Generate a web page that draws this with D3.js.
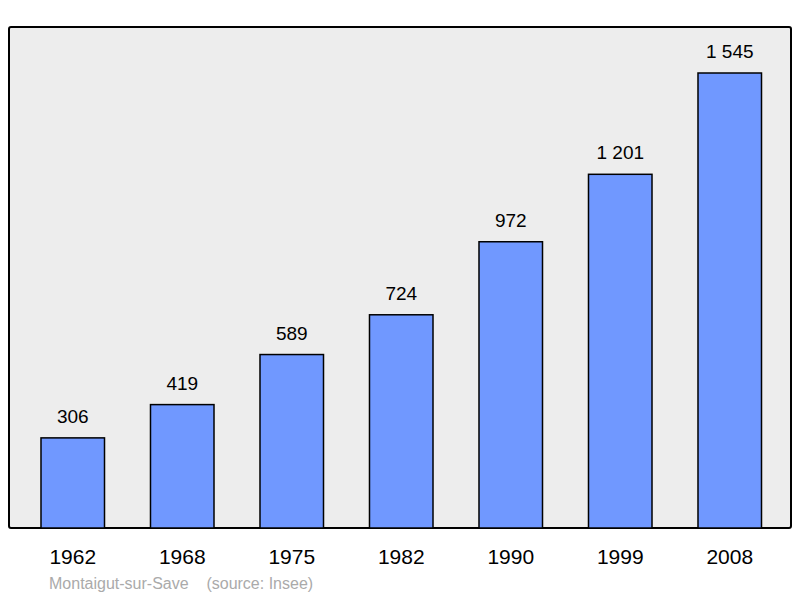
<!DOCTYPE html>
<html lang="en">
<head>
<meta charset="UTF-8">
<title>Montaigut-sur-Save population</title>
<style>
  body { margin: 0; background: #fff; }
  text { font-family: "Liberation Sans", Arial, sans-serif; }
</style>
</head>
<body>
<svg id="chart" width="800" height="598"></svg>
<script src="https://d3js.org/d3.v7.min.js"></script>
<script>
const years = ["1962", "1968", "1975", "1982", "1990", "1999", "2008"];
const population = [306, 419, 589, 724, 972, 1201, 1545];
const labels = ["306", "419", "589", "724", "972", "1 201", "1 545"];

const svg = d3.select("#chart");
const base = 528;

svg.append("rect")
   .attr("x", 9).attr("y", 27).attr("width", 782).attr("height", 501)
   .attr("rx", 2)
   .attr("fill", "#ededed").attr("stroke", "#000").attr("stroke-width", 2);

const x = d3.scaleBand().domain(years).range([18, 784.5])
            .paddingInner(0.42).paddingOuter(0.21);
const y = d3.scaleLinear().domain([0, 1545]).range([base, 73]);

svg.selectAll(".bar").data(population).enter().append("rect")
   .attr("x", (d, i) => x(years[i]))
   .attr("y", d => y(d))
   .attr("width", x.bandwidth())
   .attr("height", d => base - y(d))
   .attr("fill", "#7098ff").attr("stroke", "#000").attr("stroke-width", 1.5);

svg.selectAll(".val").data(population).enter().append("text")
   .attr("x", (d, i) => x(years[i]) + x.bandwidth() / 2)
   .attr("y", d => y(d) - 15)
   .attr("text-anchor", "middle").attr("font-size", 19)
   .text((d, i) => labels[i]);

svg.selectAll(".year").data(years).enter().append("text")
   .attr("x", d => x(d) + x.bandwidth() / 2)
   .attr("y", 564)
   .attr("text-anchor", "middle").attr("font-size", 21)
   .text(d => d);

svg.append("text")
   .attr("x", 49).attr("y", 589)
   .attr("font-size", 16).attr("fill", "#aaa")
   .attr("xml:space", "preserve")
   .text("Montaigut-sur-Save    (source: Insee)");
</script>
</body>
</html>
